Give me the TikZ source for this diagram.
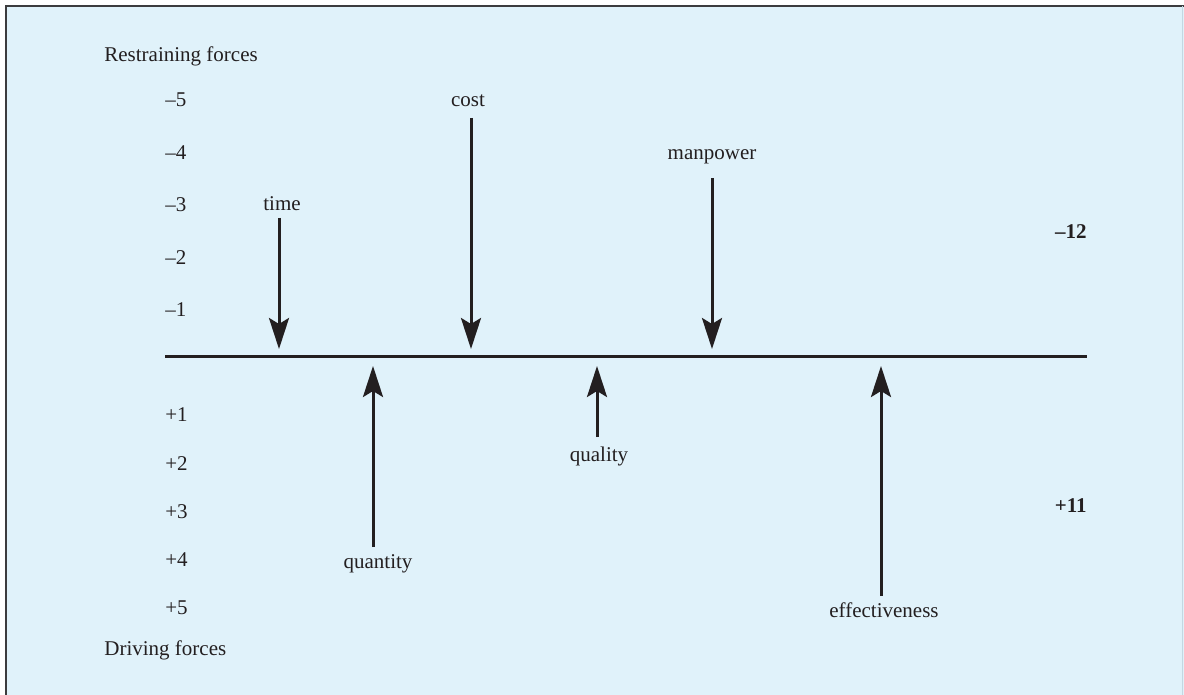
\documentclass[tikz,border=0pt]{standalone}
\usepackage{fontspec}
\setmainfont{Liberation Serif}
\usetikzlibrary{arrows.meta}
\definecolor{panel}{RGB}{224,242,250}
\definecolor{ink}{RGB}{35,31,32}
\definecolor{frame}{RGB}{60,60,62}
\definecolor{edge}{RGB}{196,216,226}
\begin{document}
\begin{tikzpicture}[x=0.5pt,y=-0.5pt,
  lbl/.style={inner sep=0pt, anchor=base, font=\fontsize{10.5}{12}\selectfont, text=ink},
  num/.style={lbl, anchor=base west},
  tot/.style={lbl, anchor=base east, font=\fontsize{10.5}{12}\selectfont\bfseries},
  force/.style={draw=ink, line width=1.5pt, -{Stealth[length=15.5pt,width=10pt,inset=3pt]}},
  axis/.style={draw=ink, line width=1.5pt}]
\useasboundingbox (0,0) rectangle (1184,695);

% panel
\fill[panel] (6,6) rectangle (1184,695);
\draw[frame, line width=1pt] (6,695) -- (6,6) -- (1184,6);
\draw[edge, line width=0.8pt] (1182.5,6) -- (1182.5,695);

% scale captions
\node[num] (rf) at (104,61.5) {Restraining forces};
\node[num] (df) at (104,655) {Driving forces};

% restraining scale
\node[num] (m5) at (165,107) {–5};
\node[num] (m4) at (165,159.5) {–4};
\node[num] (m3) at (165,212) {–3};
\node[num] (m2) at (165,264.5) {–2};
\node[num] (m1) at (165,317) {–1};

% driving scale
\node[num] (p1) at (165,422) {+1};
\node[num] (p2) at (165,470) {+2};
\node[num] (p3) at (165,518) {+3};
\node[num] (p4) at (165,566) {+4};
\node[num] (p5) at (165,614) {+5};

% totals
\node[tot] (tr) at (1087,239) {–12};
\node[tot] (td) at (1087,512) {+11};

% equilibrium line
\coordinate (axL) at (165,357);
\coordinate (axR) at (1087,357);
\draw[axis] (axL) -- (axR);

% restraining forces
\node[lbl] (time) at (282,211) {time};
\coordinate (timeS) at (279,218);
\coordinate (timeE) at (279,349);
\draw[force] (timeS) -- (timeE);

\node[lbl] (cost) at (468,107) {cost};
\coordinate (costS) at (471,118);
\coordinate (costE) at (471,349);
\draw[force] (costS) -- (costE);

\node[lbl] (man) at (712,159.5) {manpower};
\coordinate (manS) at (712,178);
\coordinate (manE) at (712,349);
\draw[force] (manS) -- (manE);

% driving forces
\node[lbl] (qty) at (378,568) {quantity};
\coordinate (qtyS) at (373,547);
\coordinate (qtyE) at (373,366);
\draw[force] (qtyS) -- (qtyE);

\node[lbl] (qual) at (599,461) {quality};
\coordinate (qualS) at (597,437);
\coordinate (qualE) at (597,366);
\draw[force] (qualS) -- (qualE);

\node[lbl] (eff) at (884,617) {effectiveness};
\coordinate (effS) at (881,596);
\coordinate (effE) at (881,366);
\draw[force] (effS) -- (effE);
\end{tikzpicture}
\end{document}
